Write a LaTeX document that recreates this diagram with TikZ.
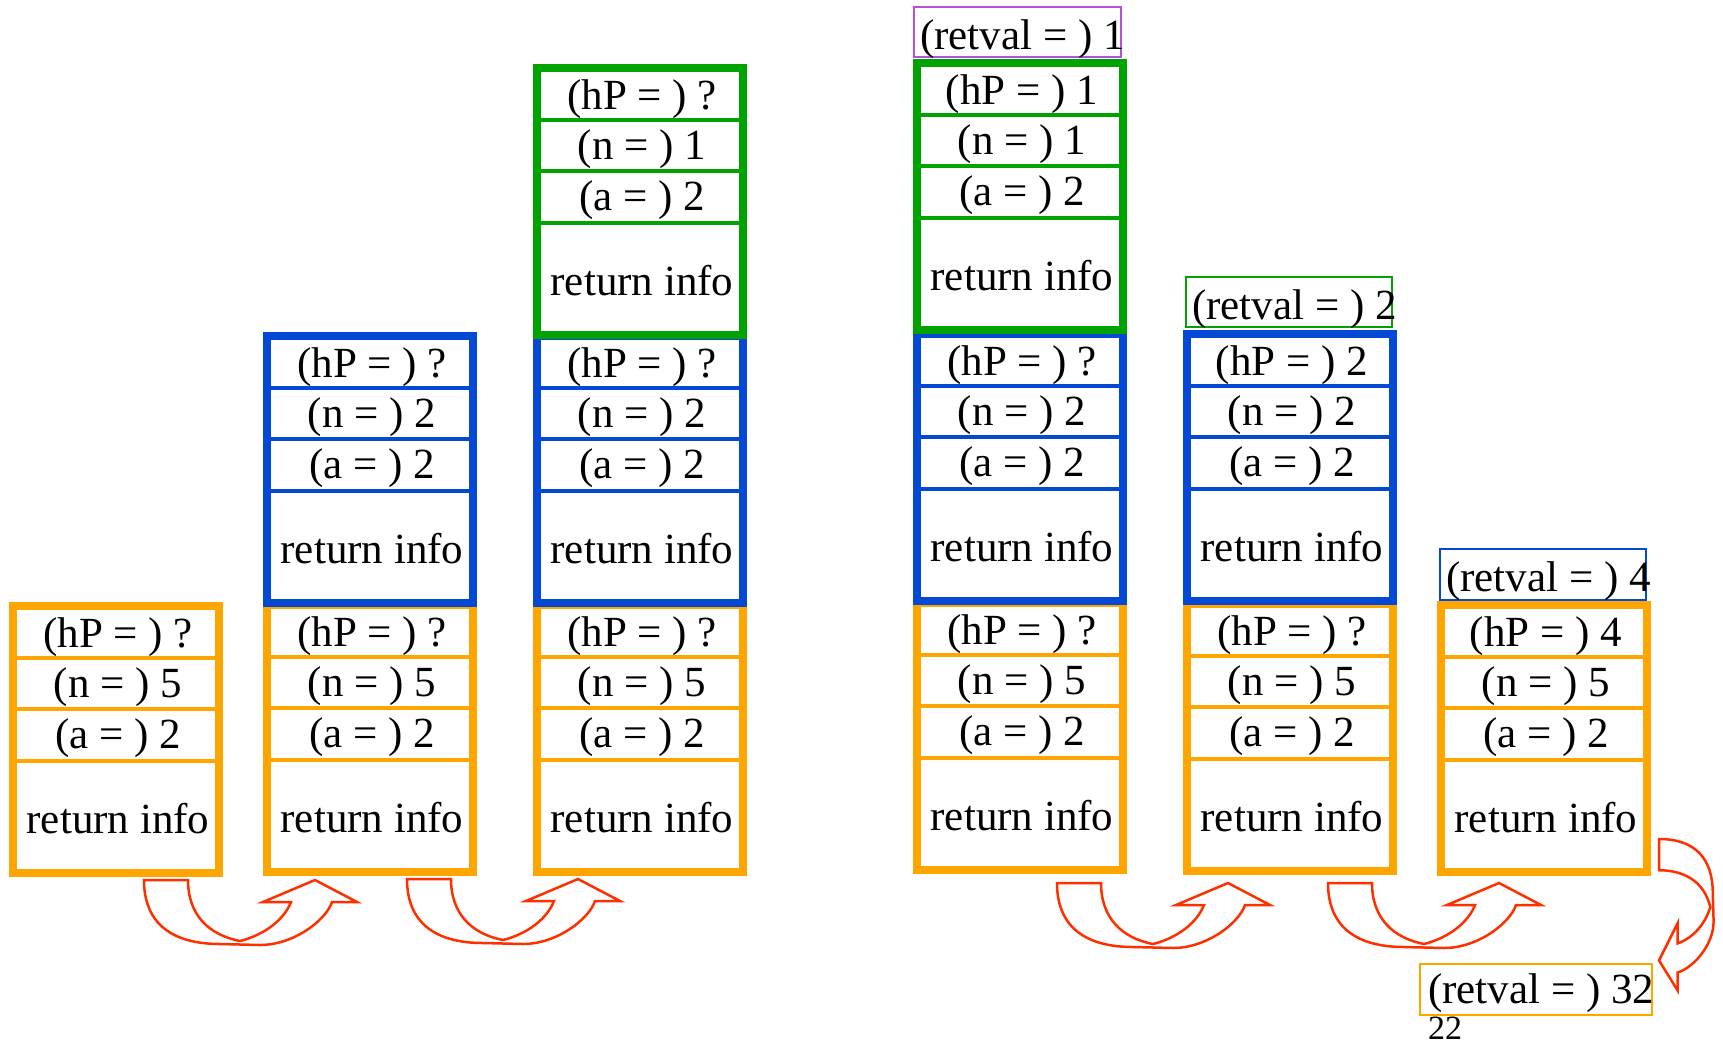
\documentclass[tikz,border=0pt]{standalone}
\usepackage{fontspec}
\setmainfont{Liberation Serif}
\definecolor{stackorange}{HTML}{FFA500}
\definecolor{stackblue}{HTML}{0448D6}
\definecolor{stackgreen}{HTML}{00A300}
\definecolor{retpurple}{HTML}{B44FE0}
\definecolor{arrowred}{HTML}{FF3000}
\begin{document}
\begin{tikzpicture}[
    x=1pt, y=-1pt,
    frame/.style={line width=8pt},
    divider/.style={line width=3.5pt},
    cell/.style={anchor=base, inner sep=0pt, font=\fontsize{43}{50}\selectfont},
    retbox/.style={line width=2.5pt},
    rettext/.style={anchor=base west, inner sep=0pt, font=\fontsize{43}{50}\selectfont},
    uturn/.pic={
      \draw[arrowred, line width=2.5pt]
        (0,0) -- (44,0) .. controls (44,35) and (65,55) .. (96,61)
        .. controls (120,55) and (140,40) .. (147,22) -- (119,22) -- (171,0)
        -- (213,22) -- (188,22) .. controls (182,40) and (150,65) .. (116,65)
        -- (76,64) .. controls (30,64) and (0,45) .. cycle;
    },
  ]
  \useasboundingbox (0,0) rectangle (1723,1044);

  % stack frames, lowest first so the frame above covers the shared edge
  \foreach \l/\t/\c/\h/\n/\a/\nm in {
      9/602/stackorange/?/5/2/sa,
      263/601/stackorange/?/5/2/sbo,
      263/332/stackblue/?/2/2/sbb,
      533/601/stackorange/?/5/2/sco,
      533/332/stackblue/?/2/2/scb,
      533/64/stackgreen/?/1/2/scg,
      913/599/stackorange/?/5/2/sdo,
      913/330/stackblue/?/2/2/sdb,
      913/59/stackgreen/1/1/2/sdg,
      1183/600/stackorange/?/5/2/seo,
      1183/330/stackblue/2/2/2/seb,
      1437/601/stackorange/4/5/2/sfo} {
    \draw[divider, draw=\c] (\l+4,\t+56) -- (\l+210,\t+56)
                            (\l+4,\t+107) -- (\l+210,\t+107)
                            (\l+4,\t+159) -- (\l+210,\t+159);
    \draw[frame, draw=\c] (\l+4,\t+4) rectangle (\l+210,\t+271);
    \node[cell] (\nm-hp) at (\l+109,\t+45) {(hP = ) \h};
    \node[cell] (\nm-n) at (\l+109,\t+95) {(n = ) \n};
    \node[cell] (\nm-a) at (\l+109,\t+146) {(a = ) \a};
    \node[cell] (\nm-ret) at (\l+109,\t+231) {return info};
  }

  % return values
  \draw[retbox, draw=retpurple] (914,7) rectangle (1121,57);
  \node[rettext] (rv-one) at (920,49) {(retval = ) 1};
  \draw[retbox, draw=stackgreen] (1186,277) rectangle (1392,327);
  \node[rettext] (rv-two) at (1192,319) {(retval = ) 2};
  \draw[retbox, draw=stackblue] (1440,549) rectangle (1646,600);
  \node[rettext] (rv-four) at (1446,591) {(retval = ) 4};
  \draw[retbox, draw=stackorange] (1420,964) rectangle (1652,1015);
  \node[rettext] (rv-final) at (1428,1003) {(retval = ) 32};

  \node[anchor=base west, inner sep=0pt, font=\fontsize{34}{40}\selectfont] (slideno) at (1428,1039) {22};

  % call / return arrows
  \pic at (144,880) {uturn};
  \pic at (407,879) {uturn};
  \pic at (1057,883) {uturn};
  \pic at (1328,883) {uturn};
  \begin{scope}[cm={0,-0.71,-0.84,0,(1659,839)}]
    \pic[transform shape] {uturn};
  \end{scope}
\end{tikzpicture}
\end{document}
